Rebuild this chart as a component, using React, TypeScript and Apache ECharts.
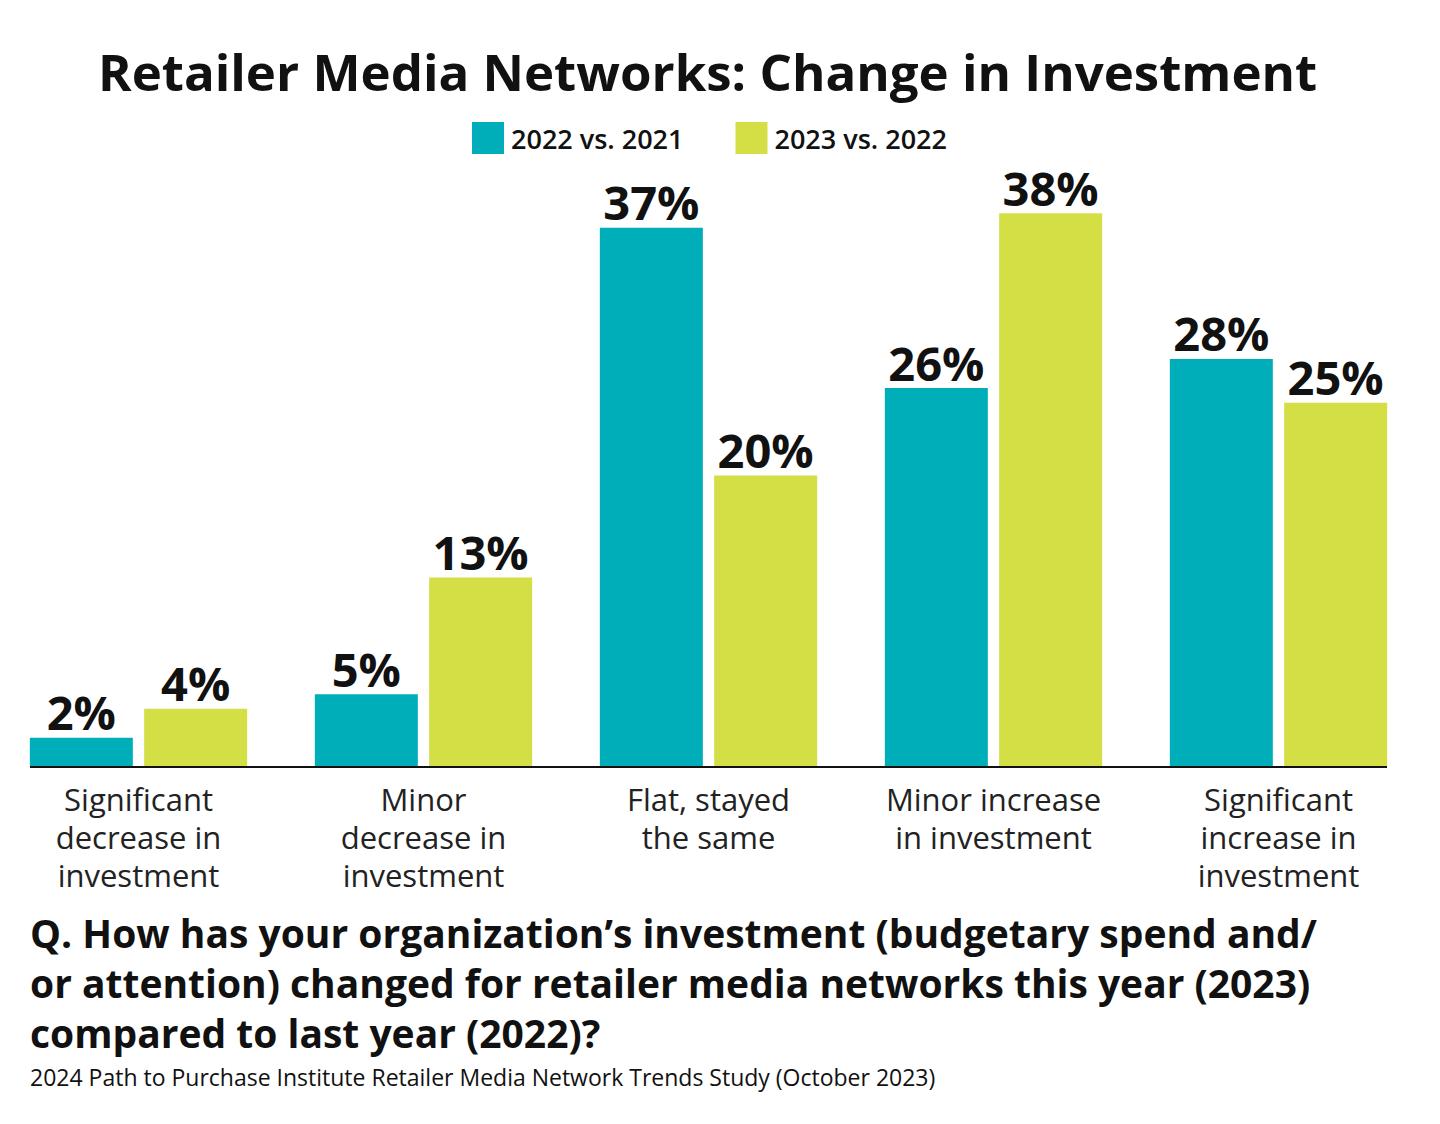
import React, { useEffect, useRef } from "react";
import * as echarts from "echarts";

const categories = [
  "Significant\ndecrease in\ninvestment",
  "Minor\ndecrease in\ninvestment",
  "Flat, stayed\nthe same",
  "Minor increase\nin investment",
  "Significant\nincrease in\ninvestment",
];
const series2022 = [2, 5, 37, 26, 28];
const series2023 = [4, 13, 20, 38, 25];
const seriesNames = ["2022 vs. 2021", "2023 vs. 2022"];
const titleText = "Retailer Media Networks: Change in Investment";
const questionText =
  "Q. How has your organization\u2019s investment (budgetary spend and/\nor attention) changed for retailer media networks this year (2023)\ncompared to last year (2022)?";
const sourceText =
  "2024 Path to Purchase Institute Retailer Media Network Trends Study (October 2023)";

const TEAL = "#00AEBA";
const LIME = "#D3DF45";
const FONT = "'Open Sans', 'Noto Sans', sans-serif";

export default function App() {
  const ref = useRef<HTMLDivElement>(null);
  useEffect(() => {
    document.body.style.margin = "0";
    if (!ref.current) return;
    const chart = echarts.init(ref.current, undefined, { renderer: "svg" });
    const label = {
      show: true,
      position: "top",
      distance: 2,
      formatter: "{c}%",
      fontSize: 47,
      fontWeight: "bold",
      fontFamily: FONT,
      color: "#111",
    };
    chart.setOption({
      animation: false,
      backgroundColor: "#fff",
      title: {
        text: titleText,
        left: 93,
        top: 40,
        textStyle: { fontSize: 51, fontWeight: "bold", fontFamily: FONT, color: "#111" },
      },
      legend: {
        left: 467,
        top: 117,
        itemWidth: 32,
        itemHeight: 32,
        itemGap: 52,
        icon: "rect",
        textStyle: { fontSize: 27, fontWeight: 600, fontFamily: FONT, color: "#111", padding: [0, 0, 0, 2] },
        data: seriesNames,
      },
      grid: { left: -4, width: 1425, top: 184, height: 583, outerBoundsMode: "none", containLabel: false },
      xAxis: {
        type: "category",
        data: categories,
        axisLine: { show: false },
        axisTick: { show: false },
        axisLabel: {
          interval: 0,
          margin: 13,
          fontSize: 31,
          lineHeight: 38,
          fontFamily: FONT,
          color: "#222",
        },
      },
      yAxis: { type: "value", min: 0, max: 40, show: false, splitLine: { show: false } },
      series: [
        {
          name: seriesNames[0],
          type: "bar",
          data: series2022,
          barWidth: 103,
          barGap: "11%",
          itemStyle: { color: TEAL },
          label,
        },
        {
          name: seriesNames[1],
          type: "bar",
          data: series2023,
          barWidth: 103,
          itemStyle: { color: LIME },
          label,
        },
      ],
      graphic: [
        {
          type: "line",
          shape: { x1: 30, y1: 767, x2: 1387, y2: 767 },
          style: { stroke: "#111", lineWidth: 2 },
          z: 10,
        },
        {
          type: "text",
          left: 30,
          top: 907,
          style: {
            text: questionText,
            fontSize: 39,
            lineHeight: 50,
            fontWeight: "bold",
            fontFamily: FONT,
            fill: "#111",
          },
        },
        {
          type: "text",
          left: 30,
          top: 1065,
          style: {
            text: sourceText,
            fontSize: 23,
            fontFamily: FONT,
            fill: "#111",
          },
        },
      ],
    });
    return () => chart.dispose();
  }, []);
  return <div ref={ref} style={{ width: 1440, height: 1124 }} />;
}
